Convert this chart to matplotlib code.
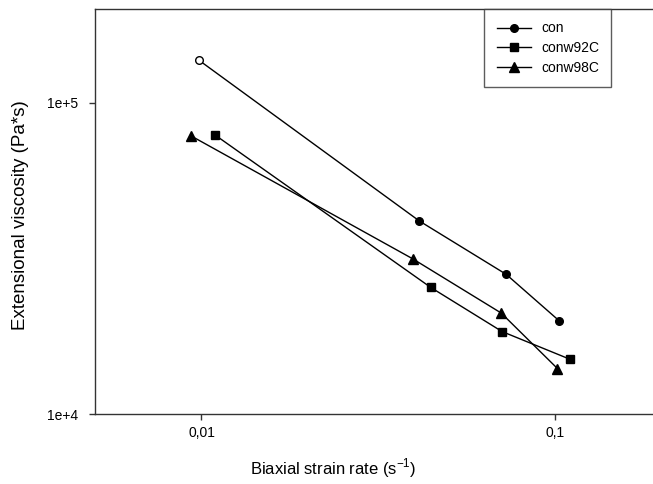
import matplotlib
matplotlib.use("Agg")
import matplotlib.pyplot as plt
from matplotlib.ticker import FixedLocator, FixedFormatter, NullLocator

plt.rcParams['font.family'] = ['Liberation Sans', 'DejaVu Sans']

# data (log-log)
con_x = [0.00983, 0.0413, 0.0727, 0.1028]
con_y = [1.37e5, 4.17e4, 2.81e4, 1.99e4]
w92_x = [0.0109, 0.0445, 0.0708, 0.110]
w92_y = [7.89e4, 2.55e4, 1.84e4, 1.50e4]
w98_x = [0.00935, 0.0396, 0.0704, 0.1015]
w98_y = [7.82e4, 3.15e4, 2.11e4, 1.40e4]

x_ticks = [0.01, 0.1]
x_labels = ["0,01", "0,1"]
y_ticks = [1e4, 1e5]
y_labels = ["1e+4", "1e+5"]

fig = plt.figure(figsize=(6.53, 4.84), dpi=100)
# axes run a little past the right edge of the figure, as in the reference
ax = fig.add_axes([95 / 653, 1 - 414 / 484, 566.6 / 653, 405 / 484])
ax.set_xscale('log')
ax.set_yscale('log')
ax.set_xlim(0.005, 0.2)
ax.set_ylim(1e4, 2e5)

kw = dict(color='black', lw=1.0, mec='black')
# first "con" point is drawn hollow in the original
ax.plot(con_x, con_y, marker='o', ms=5.5, mfc='black', markevery=[1, 2, 3],
        label='con', **kw)
ax.plot(con_x[:1], con_y[:1], marker='o', ms=5.5, mfc='white', ls='none',
        mec='black', mew=1.0)
ax.plot(w92_x, w92_y, marker='s', ms=6, mfc='black', label='conw92C', **kw)
ax.plot(w98_x, w98_y, marker='^', ms=7, mfc='black', label='conw98C', **kw)

ax.xaxis.set_major_locator(FixedLocator(x_ticks))
ax.xaxis.set_major_formatter(FixedFormatter(x_labels))
ax.xaxis.set_minor_locator(NullLocator())
ax.yaxis.set_major_locator(FixedLocator(y_ticks))
ax.yaxis.set_major_formatter(FixedFormatter(y_labels))
ax.yaxis.set_minor_locator(NullLocator())
ax.tick_params(direction='out', length=4.5, width=1.0, color='#333333',
               labelsize=10)
ax.tick_params(axis='x', pad=4)
ax.tick_params(axis='y', pad=8)

for s in ax.spines.values():
    s.set_color('#333333')
    s.set_linewidth(1.0)

ax.set_xlabel('Biaxial strain rate (s$^{\\mathregular{-1}}$)', fontsize=12)
ax.set_ylabel('Extensional viscosity (Pa*s)', fontsize=13.5)
ax.xaxis.set_label_coords(0.42, -0.105)
ax.yaxis.set_label_coords(-0.117, 0.49)

leg = ax.legend(loc='upper left', bbox_to_anchor=(0.6866, 1.0),
                borderaxespad=0, fancybox=False, fontsize=10,
                handlelength=2.5, handletextpad=0.7, borderpad=0.9,
                labelspacing=0.4)
leg.get_frame().set_edgecolor('#333333')
leg.get_frame().set_linewidth(1.0)

fig.savefig('out.png', dpi=100)
